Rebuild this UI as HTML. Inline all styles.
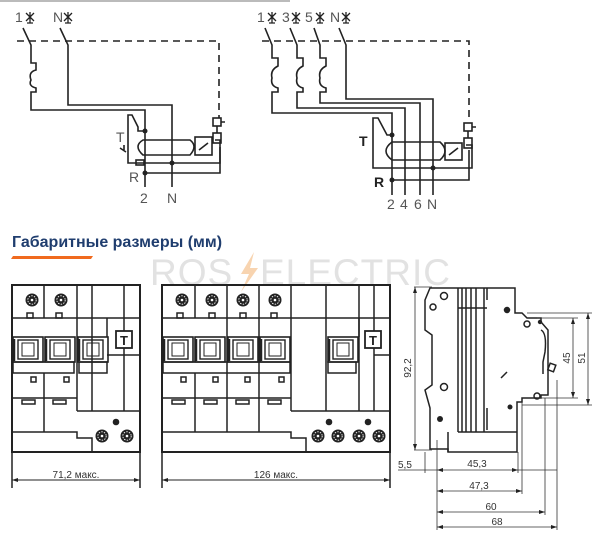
<!DOCTYPE html>
<html><head><meta charset="utf-8"><style>
html,body{margin:0;padding:0;background:#fff;width:600px;height:550px;overflow:hidden}
svg{display:block}
text{font-family:"Liberation Sans",sans-serif}
</style></head><body>
<svg width="600" height="550" viewBox="0 0 600 550" xmlns="http://www.w3.org/2000/svg">
<defs>
<g id="star"><path d="M-4,-4 L4,4 M4,-4 L-4,4 M0,-5 V6 M-3,6 H3" stroke="#222" stroke-width="1.3" fill="none"/></g>
<g id="screw"><circle r="6.5" fill="#222"/><circle r="4.2" fill="none" stroke="#fff" stroke-width="0.9" stroke-dasharray="1.5 1.2"/><circle r="1.3" fill="#fff"/></g>
<g id="handle"><rect x="0" y="0" width="30" height="25" fill="none" stroke="#222" stroke-width="1.6"/><rect x="5" y="3" width="20" height="19" fill="none" stroke="#222" stroke-width="1.4"/><rect x="9" y="6" width="12" height="13" fill="none" stroke="#222" stroke-width="1"/><line x1="1" y1="2" x2="1" y2="24" stroke="#222" stroke-width="2.5"/></g>
</defs>
<rect x="0" y="0" width="290" height="2" fill="#bbb"/>
<g fill="none" stroke="#222" stroke-width="1.6">
<path d="M23,28 L31,45 V63 H36 V70 Q28,72 31,80 Q28,86 36,88 V92 H31 V110 H145 V187"/>
<path d="M60,28 L68,45 V105 H172 V187"/>
<path d="M17,41 H219 V118" stroke-dasharray="7 5"/>
<path d="M145,131 H138 V127 L132,115 H128 V163 H135 M135,163 H145 M142,163 H220 V140 H215"/>
<path d="M143,140 Q133,146 143,155 H190 Q198,146 190,140 Z"/>
<path d="M145,173 H220 V147"/>
<rect x="195" y="137" width="17" height="18"/>
<path d="M199,150 L208,143"/>
<rect x="213" y="133" width="8" height="10"/>
<rect x="213" y="118" width="8" height="8"/>
<path d="M217,126 V133 M221,122 H225"/>
<path d="M124,145 V150 M120,148 L126,152"/>
<rect x="136" y="160" width="8" height="5"/>
<path d="M265,28 L272,45 V58 H278 V66 Q270,70 272,78 Q270,86 278,88 V92 H272 V113 H392 V195"/>
<path d="M290,28 L297,45 V58 H303 V66 Q295,70 297,78 Q295,86 303,88 V92 H297 V108 H405 V195"/>
<path d="M314,28 L320,45 V58 H326 V66 Q318,70 320,78 Q318,86 326,88 V92 H320 V103 H420 V195"/>
<path d="M339,28 L346,45 V99 H433 V195"/>
<path d="M262,41 H469 V120" stroke-dasharray="7 5"/>
<path d="M392,135 H387 L378,118 H373 V168 H383 M383,168 H392 M388,168 H472 V145 H466"/>
<path d="M392,142 Q380,151 392,160 H440 Q450,151 440,142 Z"/>
<path d="M392,180 H469 V150"/>
<rect x="445" y="143" width="17" height="17"/>
<path d="M449,155 L458,148"/>
<rect x="464" y="138" width="8" height="10"/>
<rect x="464" y="123" width="8" height="8"/>
<path d="M468,131 V138 M472,127 H476"/>
</g>
<g fill="#222">
<circle cx="145" cy="131" r="2.5"/><circle cx="172" cy="163" r="2.5"/><circle cx="145" cy="173" r="2.5"/>
<circle cx="392" cy="135" r="2.5"/><circle cx="433" cy="168" r="2.5"/><circle cx="392" cy="180" r="2.5"/>
</g>
<use href="#star" x="30" y="17"/><use href="#star" x="68" y="17"/>
<use href="#star" x="272" y="17"/><use href="#star" x="296" y="17"/><use href="#star" x="320" y="17"/><use href="#star" x="346" y="17"/>
<g fill="#555" font-size="14">
<text x="15" y="22">1</text><text x="53" y="22">N</text>
<text x="116" y="142">T</text><text x="129" y="182">R</text>
<text x="140" y="203">2</text><text x="167" y="203">N</text>
<text x="257" y="22">1</text><text x="282" y="22">3</text><text x="305" y="22">5</text><text x="330" y="22">N</text>
<text x="359" y="146" font-weight="bold" fill="#222">T</text><text x="374" y="187" font-weight="bold" fill="#222">R</text>
<text x="387" y="209">2</text><text x="400" y="209">4</text><text x="414" y="209">6</text><text x="427" y="209">N</text>
</g>
<text x="12" y="247" font-size="16" font-weight="bold" fill="#1f3d6e">Габаритные размеры (мм)</text>
<path d="M13,256 H93 L91,259 H11 Z" fill="#f06a1e"/>
<text x="150" y="285" font-size="37" fill="#e2e2e2" letter-spacing="1">ROS</text>
<path d="M254,252 L241,274 H249 L241,292 L258,268 H250 Z" fill="#f8d4b0"/>
<text x="260" y="285" font-size="37" fill="#e2e2e2" letter-spacing="1">ELECTRIC</text>
<g fill="none" stroke="#222" stroke-width="1.5">
<rect x="12" y="285" width="128" height="167" stroke-width="2"/>
<path d="M12,318 H140 M44,285 V318 M77,285 V411 M92,285 V411 M124,285 V411 M44,373 V432 M12,398 H77 M77,411 H140 M12,432 H77 V438 H92 V452"/>
<path d="M107,318 V337 M107,355 H140"/>
<rect x="13" y="362" width="61" height="11"/><rect x="79" y="362" width="28" height="11"/>
<rect x="27" y="313" width="6" height="5"/><rect x="56" y="313" width="6" height="5"/>
<path d="M12,452 V488 M140,452 V488"/>
<path d="M12,480 H140" stroke-width="1"/>
<rect x="162" y="285" width="228" height="167" stroke-width="2"/>
<path d="M162,318 H390 M195,285 V318 M227,285 V398 M259,285 V398 M291,285 V411 M326,285 V411 M359,285 V411 M374,285 V411 M195,373 V432 M227,373 V432 M259,373 V432 M162,398 H291 M291,411 H390 M162,432 H291 V438 H306 V452"/>
<path d="M359,318 V337 M374,355 H390"/>
<rect x="163" y="362" width="127" height="11"/><rect x="328" y="362" width="28" height="11"/>
<rect x="177" y="313" width="6" height="5"/><rect x="209" y="313" width="6" height="5"/><rect x="240" y="313" width="6" height="5"/><rect x="271" y="313" width="6" height="5"/>
<path d="M162,452 V488 M390,452 V488"/>
<path d="M162,480 H390" stroke-width="1"/>
</g>
<g>
<use href="#screw" x="32" y="300"/><use href="#screw" x="61" y="300"/>
<use href="#screw" x="102" y="436"/><use href="#screw" x="127" y="436"/>
<circle cx="116" cy="422" r="3.3" fill="#222"/>
<use href="#screw" x="182" y="300"/><use href="#screw" x="212" y="300"/><use href="#screw" x="243" y="300"/><use href="#screw" x="275" y="300"/>
<use href="#screw" x="318" y="436"/><use href="#screw" x="338" y="436"/><use href="#screw" x="359" y="436"/><use href="#screw" x="379" y="436"/>
<circle cx="329" cy="422" r="3.3" fill="#222"/><circle cx="368" cy="422" r="3.3" fill="#222"/>
<use href="#handle" x="13" y="337"/><use href="#handle" x="45" y="337"/><use href="#handle" x="78" y="337"/>
<use href="#handle" x="163" y="337"/><use href="#handle" x="195" y="337"/><use href="#handle" x="228" y="337"/><use href="#handle" x="260" y="337"/><use href="#handle" x="328" y="337"/>
<rect x="116" y="331" width="16" height="17" fill="#fff" stroke="#222" stroke-width="1.8"/>
<text x="124" y="345" font-size="13" font-weight="bold" text-anchor="middle" fill="#222">T</text>
<rect x="365" y="331" width="16" height="17" fill="#fff" stroke="#222" stroke-width="1.8"/>
<text x="373" y="345" font-size="13" font-weight="bold" text-anchor="middle" fill="#222">T</text>
<g fill="none" stroke="#222" stroke-width="1.5">
<rect x="31" y="377" width="5" height="5"/><rect x="64" y="377" width="5" height="5"/>
<rect x="181" y="377" width="5" height="5"/><rect x="213" y="377" width="5" height="5"/><rect x="245" y="377" width="5" height="5"/><rect x="279" y="377" width="5" height="5"/>
<rect x="22" y="400" width="13" height="4"/><rect x="53" y="400" width="13" height="4"/>
<rect x="172" y="400" width="13" height="4"/><rect x="204" y="400" width="13" height="4"/><rect x="236" y="400" width="13" height="4"/><rect x="268" y="400" width="13" height="4"/>
</g>
</g>
<g fill="#222"><path d="M12,480 l6,-2 v4z M140,480 l-6,-2 v4z M162,480 l6,-2 v4z M390,480 l-6,-2 v4z"/></g>
<text x="76" y="478" font-size="10" fill="#333" text-anchor="middle">71,2 макс.</text>
<text x="276" y="478" font-size="10" fill="#333" text-anchor="middle">126 макс.</text>
<g fill="none" stroke="#222" stroke-width="1.5">
<path d="M430,288 H515 V313 H522 L527,318 H541 V322 L548,330 V395 H541 V398 H522 V402 H517 V452 H448 V449 H430 V408 L425,390 L432,385 V335 L425,330 V300 Z"/>
<path d="M458,288 V432 M462,288 V432 M466,288 V432 M471,288 V432 M476,288 V432 M484,288 V432 M458,432 H517 M448,432 V452 M487,430 V408 M487,288 V300 M487,308 H458"/>
<circle cx="444" cy="296" r="3.5"/><circle cx="433" cy="307" r="3"/><circle cx="444" cy="387" r="3.5"/><circle cx="507" cy="310" r="2.5"/><circle cx="527" cy="324" r="3"/><circle cx="537" cy="396" r="3"/>
<path d="M541,330 q6,3 4,22 l-2,10 v12"/>
<rect x="549" y="364" width="6" height="7" transform="rotate(20 552 367)"/>
<path d="M507,372 l-6,6"/>
</g>
<g fill="#222"><circle cx="507" cy="310" r="2.5"/><circle cx="440" cy="419" r="3"/><circle cx="510" cy="407" r="2.5"/><circle cx="540" cy="322" r="2.2"/></g>
<g fill="none" stroke="#333" stroke-width="0.8">
<path d="M414,287 H432 M414,450 H432 M415,287 V450"/>
<path d="M527,313 H592 M537,318 H578 M537,398 H578 M522,405 H592 M573,318 V398 M588,313 V405"/>
<path d="M425,452 V473 M437,440 V530 M518,452 V473 M522,402 V494 M545,398 V515 M557,380 V530"/>
<path d="M398,470 H557 M437,491 H522 M437,512 H545 M437,527 H557"/>
</g>
<g fill="#222">
<path d="M415,287 l-2,6 h4z M415,450 l-2,-6 h4z M573,318 l-2,6 h4z M573,398 l-2,-6 h4z M588,313 l-2,6 h4z M588,405 l-2,-6 h4z"/>
<path d="M437,470 l6,-2 v4z M518,470 l-6,-2 v4z M437,491 l6,-2 v4z M522,491 l-6,-2 v4z M437,512 l6,-2 v4z M545,512 l-6,-2 v4z M437,527 l6,-2 v4z M557,527 l-6,-2 v4z"/>
</g>
<g font-size="10" fill="#333">
<text transform="translate(411,368) rotate(-90)" text-anchor="middle">92,2</text>
<text transform="translate(570,358) rotate(-90)" text-anchor="middle">45</text>
<text transform="translate(585,358) rotate(-90)" text-anchor="middle">51</text>
<text x="398" y="468">5,5</text>
<text x="477" y="467" text-anchor="middle">45,3</text>
<text x="479" y="489" text-anchor="middle">47,3</text>
<text x="491" y="510" text-anchor="middle">60</text>
<text x="497" y="525" text-anchor="middle">68</text>
</g>
</svg>
</body></html>
